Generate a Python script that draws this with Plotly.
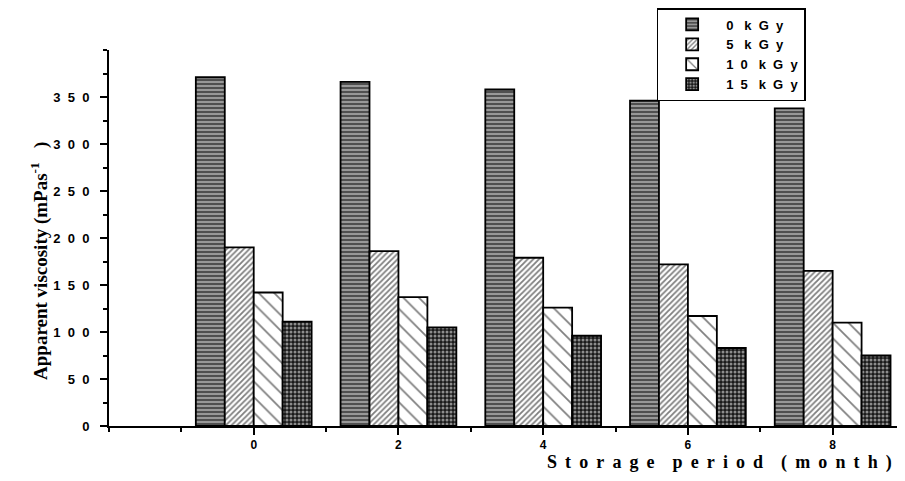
import plotly.graph_objects as go

NB = "\u00a0"

months = [0, 2, 4, 6, 8]
dose_labels = ["0 kGy", "5 kGy", "10 kGy", "15 kGy"]
v_0kGy = [371, 366, 358, 346, 338]
v_5kGy = [190, 186, 179, 172, 165]
v_10kGy = [142, 137, 126, 117, 110]
v_15kGy = [111, 105, 96, 83, 75]

y_tickvals = [0, 50, 100, 150, 200, 250, 300, 350]
y_ticktext = ["0", "50", "100", "150", "200", "250", "300", "350"]
x_tickvals = [0, 2, 4, 6, 8]
x_ticktext = ["0", "2", "4", "6", "8"]

x_title = "Storage period (month)"
y_title = "Apparent viscosity (mPas<sup>-1</sup>   )"


def letterspace(s, gap, wordgap):
    words = s.split(" ")
    return wordgap.join(gap.join(list(w)) for w in words)


patterns = [
    dict(shape="-", size=4, solidity=0.55, fgcolor="black", bgcolor="#a0a0a0"),
    dict(shape="/", size=4, solidity=0.45, fgcolor="black", bgcolor="white"),
    dict(shape="\\", size=11, solidity=0.16, fgcolor="black", bgcolor="white"),
    dict(shape=".", size=4, solidity=0.45, fgcolor="white", bgcolor="#1a1a1a"),
]

fig = go.Figure()
for name, vals, pat in zip(dose_labels, [v_0kGy, v_5kGy, v_10kGy, v_15kGy], patterns):
    fig.add_trace(go.Bar(
        x=months, y=vals, name=letterspace(name, NB * 2, NB * 3),
        marker=dict(color="white", pattern=pat, line=dict(color="black", width=1.8)),
    ))

sans = "Liberation Sans, Arial, sans-serif"
serif = "Liberation Serif, Times New Roman, serif"

fig.update_layout(
    width=897, height=473,
    margin=dict(l=101, r=0, t=42, b=55),
    paper_bgcolor="white", plot_bgcolor="white",
    barmode="group", bargap=0.2, bargroupgap=0,
    showlegend=True,
    legend=dict(
        x=0.688, y=1.112, xanchor="left", yanchor="top",
        bordercolor="black", borderwidth=1.5, bgcolor="white",
        font=dict(family=sans, size=13, color="black", weight="bold"),
        tracegroupgap=0, itemwidth=58,
    ),
    xaxis=dict(
        range=[-2, 9], tickvals=x_tickvals, ticktext=x_ticktext,
        showgrid=False, zeroline=False, showline=True, linecolor="black", linewidth=2,
        ticks="outside", ticklen=7, tickwidth=2, tickcolor="black",
        minor=dict(dtick=1, tick0=0, ticks="outside", ticklen=4, tickwidth=1.5, tickcolor="black"),
        tickfont=dict(family=sans, size=12, color="black", weight="bold"),
    ),
    yaxis=dict(
        range=[0, 400], tickvals=y_tickvals,
        ticktext=[letterspace(t, NB * 2, NB) for t in y_ticktext],
        showgrid=False, zeroline=False, showline=True, linecolor="black", linewidth=2,
        ticks="outside", ticklen=7, tickwidth=2, tickcolor="black",
        minor=dict(dtick=25, tick0=0, ticks="outside", ticklen=4, tickwidth=1.5, tickcolor="black"),
        tickfont=dict(family=sans, size=13, color="black", weight="bold"),
        ticklabelstandoff=8,
    ),
    annotations=[
        dict(text="<b>" + letterspace(x_title, NB + "\u2009", NB * 4) + "</b>",
             xref="paper", yref="paper", x=0.5477, y=-0.098, xanchor="left", yanchor="middle",
             showarrow=False, font=dict(family=serif, size=18, color="black")),
        dict(text="<b>" + y_title.replace("   ", NB * 3) + "</b>",
             xref="paper", yref="paper", x=-0.0867, y=0.439, xanchor="center", yanchor="middle",
             textangle=-90, showarrow=False, font=dict(family=serif, size=19, color="black")),
    ],
)

fig.write_html("out.html")
